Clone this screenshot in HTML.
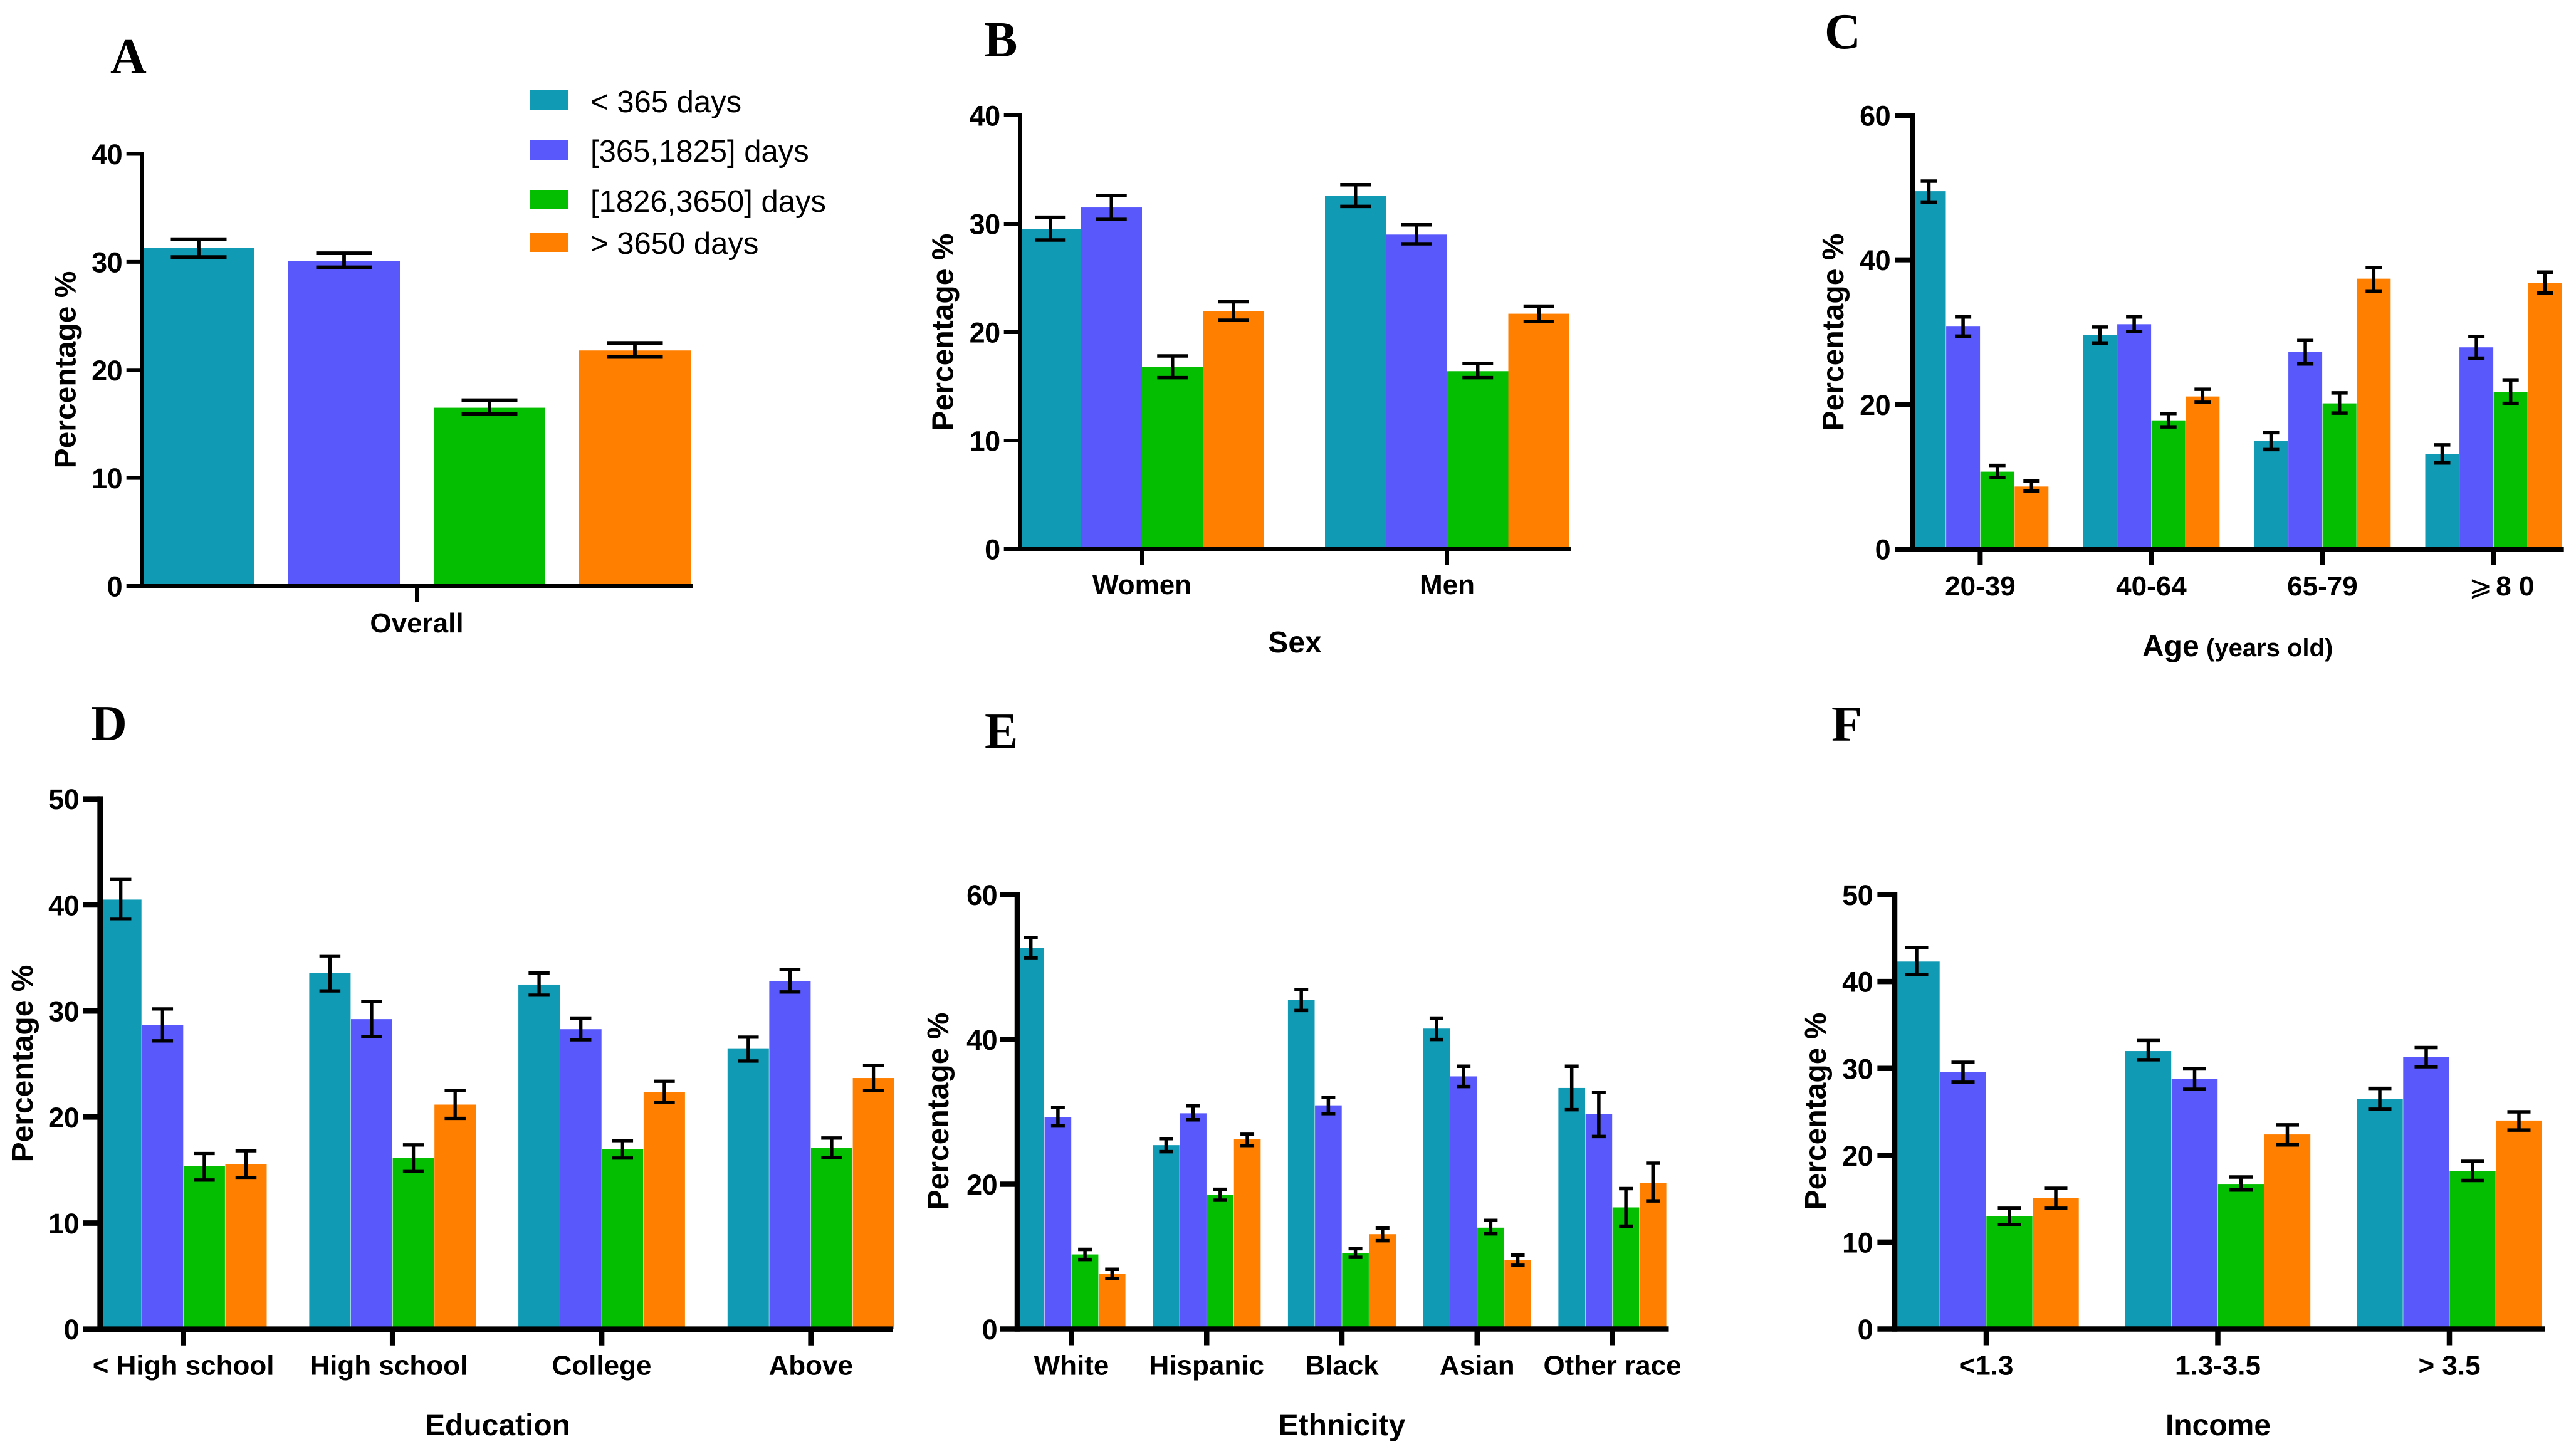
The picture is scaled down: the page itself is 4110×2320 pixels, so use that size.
<!DOCTYPE html>
<html lang="en">
<head>
<meta charset="utf-8">
<title>Percentage by duration across subgroups</title>
<style>
html,body{margin:0;padding:0;background:#fff;}
svg{display:block;}
text{font-family:"Liberation Sans","DejaVu Sans",sans-serif;fill:#000;}
.letter{font-family:"Liberation Serif",serif;font-weight:bold;font-size:80px;}
.ytitle{font-weight:bold;font-size:48px;}
.xtitle{font-weight:bold;font-size:48px;}
.legend{font-size:49px;}
.tick{font-weight:bold;font-size:45px;letter-spacing:-0.6px;}
.cat{font-weight:bold;font-size:44px;}
</style>
</head>
<body>
<svg id="figure" xmlns="http://www.w3.org/2000/svg" width="4110" height="2320" viewBox="0 0 4110 2320">
  <rect x="0" y="0" width="4110" height="2320" fill="#ffffff"/>

  <g id="panel-overall"></g>
  <g id="panel-sex"></g>
  <g id="panel-age"></g>
  <g id="panel-education"></g>
  <g id="panel-ethnicity"></g>
  <g id="panel-income"></g>

  <text class="letter" x="176" y="117">A</text>
  <text class="letter" x="1570" y="90">B</text>
  <text class="letter" x="2911" y="77">C</text>
  <text class="letter" x="145" y="1181">D</text>
  <text class="letter" x="1571" y="1193">E</text>
  <text class="letter" x="2922" y="1182">F</text>

  <text class="ytitle" text-anchor="middle" transform="translate(120.5 590) rotate(-90)">Percentage %</text>
  <text class="ytitle" text-anchor="middle" transform="translate(1520.5 530) rotate(-90)">Percentage %</text>
  <text class="ytitle" text-anchor="middle" transform="translate(2941 530) rotate(-90)">Percentage %</text>
  <text class="ytitle" text-anchor="middle" transform="translate(52 1697) rotate(-90)">Percentage %</text>
  <text class="ytitle" text-anchor="middle" transform="translate(1513 1773) rotate(-90)">Percentage %</text>
  <text class="ytitle" text-anchor="middle" transform="translate(2913 1773) rotate(-90)">Percentage %</text>

  <text class="xtitle" x="2066" y="1041" text-anchor="middle">Sex</text>
  <text class="xtitle" x="3418" y="1047">Age</text>
  <text x="3520" y="1047" font-weight="bold" font-size="40">(years old)</text>
  <text class="xtitle" x="794" y="2290" text-anchor="middle">Education</text>
  <text class="xtitle" x="2141" y="2290" text-anchor="middle">Ethnicity</text>
  <text class="xtitle" x="3539" y="2290" text-anchor="middle">Income</text>

  <g>
    <rect x="845" y="144" width="62" height="31" fill="#109ab4"/>
    <text class="legend" x="942" y="179">&lt; 365 days</text>
    <rect x="845" y="224" width="62" height="31" fill="#5858fb"/>
    <text class="legend" x="942" y="258">[365,1825] days</text>
    <rect x="845" y="303" width="62" height="31" fill="#04be02"/>
    <text class="legend" x="942" y="338">[1826,3650] days</text>
    <rect x="845" y="371" width="62" height="31" fill="#ff7f00"/>
    <text class="legend" x="942" y="405">&gt; 3650 days</text>
  </g>
</svg>

<script>
// ---- Data. Each row is one duration series, each column one category. ----
const seriesColors = ['#109ab4', '#5858fb', '#04be02', '#ff7f00'];

const overallCategories = ['Overall'];
const overallTicks = [0, 10, 20, 30, 40];
const overallValues = [[31.3], [30.1], [16.5], [21.8]];
const overallLow = [[30.45], [29.5], [15.9], [21.2]];
const overallHigh = [[32.1], [30.8], [17.2], [22.5]];

const sexCategories = ['Women', 'Men'];
const sexTicks = [0, 10, 20, 30, 40];
const sexValues = [[29.5, 32.6], [31.5, 29.0], [16.8, 16.4], [21.95, 21.7]];
const sexLow = [[28.5, 31.6], [30.4, 28.15], [15.8, 15.8], [21.1, 21.0]];
const sexHigh = [[30.6, 33.6], [32.6, 29.9], [17.8, 17.1], [22.8, 22.4]];

const ageCategories = ['20-39', '40-64', '65-79', '⩾8 0'];
const ageTicks = [0, 20, 40, 60];
const ageValues = [[49.5, 29.6, 15.0, 13.15], [30.85, 31.1, 27.3, 27.9], [10.7, 17.8, 20.15, 21.7], [8.64, 21.1, 37.4, 36.8]];
const ageLow = [[48.0, 28.5, 13.75, 11.9], [29.45, 30.1, 25.6, 26.4], [9.9, 16.9, 18.8, 20.15], [8.0, 20.3, 35.7, 35.4]];
const ageHigh = [[50.9, 30.7, 16.1, 14.4], [32.1, 32.1, 28.85, 29.4], [11.56, 18.75, 21.6, 23.4], [9.43, 22.1, 38.95, 38.3]];

const educationCategories = ['< High school', 'High school', 'College', 'Above'];
const educationTicks = [0, 10, 20, 30, 40, 50];
const educationValues = [[40.5, 33.59, 32.49, 26.48], [28.68, 29.23, 28.28, 32.79], [15.36, 16.13, 16.97, 17.1], [15.56, 21.17, 22.37, 23.68]];
const educationLow = [[38.7, 31.89, 31.49, 25.28], [27.18, 27.58, 27.28, 31.79], [14.06, 14.86, 16.13, 16.16], [14.26, 19.87, 21.37, 22.52]];
const educationHigh = [[42.4, 35.19, 33.59, 27.53], [30.19, 30.89, 29.33, 33.89], [16.56, 17.37, 17.77, 18.02], [16.82, 22.52, 23.37, 24.88]];

const ethnicityCategories = ['White', 'Hispanic', 'Black', 'Asian', 'Other race'];
const ethnicityTicks = [0, 20, 40, 60];
const ethnicityValues = [[52.66, 25.4, 45.5, 41.5, 33.3], [29.26, 29.8, 30.9, 34.9, 29.7], [10.3, 18.5, 10.5, 14.0, 16.8], [7.6, 26.2, 13.1, 9.5, 20.2]];
const ethnicityLow = [[51.3, 24.5, 44.0, 40.0, 30.3], [28.05, 28.9, 29.75, 33.5, 26.6], [9.6, 17.8, 9.9, 13.15, 14.2], [6.95, 25.35, 12.2, 8.8, 17.7]];
const ethnicityHigh = [[54.1, 26.3, 46.9, 42.95, 36.3], [30.6, 30.8, 32.0, 36.3, 32.7], [11.0, 19.3, 11.1, 15.0, 19.4], [8.25, 26.9, 13.95, 10.2, 22.9]];

const incomeCategories = ['<1.3', '1.3-3.5', '> 3.5'];
const incomeTicks = [0, 10, 20, 30, 40, 50];
const incomeValues = [[42.3, 32.0, 26.5], [29.55, 28.8, 31.3], [13.0, 16.7, 18.2], [15.1, 22.4, 24.0]];
const incomeLow = [[40.8, 31.0, 25.3], [28.4, 27.6, 30.2], [12.0, 16.0, 17.1], [13.9, 21.2, 22.9]];
const incomeHigh = [[43.9, 33.2, 27.7], [30.7, 29.95, 32.4], [13.9, 17.5, 19.3], [16.2, 23.5, 25.0]];

// ---- Panel geometry (separate from data) ----
const SVG_NS = 'http://www.w3.org/2000/svg';

function shape(parent, tag, attrs) {
  const el = document.createElementNS(SVG_NS, tag);
  for (const key in attrs) { el.setAttribute(key, attrs[key]); }
  parent.appendChild(el);
  return el;
}

function drawPanel(p) {
  const root = document.getElementById(p.id);
  const yTop = p.y0 - p.plotH;
  const yMax = p.ticks[p.ticks.length - 1];
  const yScale = function (v) { return p.y0 - (v / yMax) * p.plotH; };
  const xCenter = function (i) { return p.x1 + i * p.pitch; };
  const barX = function (i, s, n) { return xCenter(i) - (n * p.barPitch - (p.barPitch - p.barW)) / 2 + s * p.barPitch; };
  const nSeries = p.values.length;

  // bars first so the error bars and axes sit on top
  p.values.forEach(function (row, s) {
    row.forEach(function (v, i) {
      const bar = shape(root, 'rect', {
        x: barX(i, s, nSeries) + p.hair / 2,
        y: yScale(v),
        width: p.barW - p.hair,
        height: p.y0 - yScale(v),
        fill: seriesColors[s]
      });
      
      
    });
  });

  p.values.forEach(function (row, s) {
    row.forEach(function (v, i) {
      const cx = barX(i, s, nSeries) + p.barW / 2;
      const lo = yScale(p.low[s][i]);
      const hi = yScale(p.high[s][i]);
      const stem = shape(root, 'line', { x1: cx, x2: cx, y1: hi, y2: lo, stroke: '#000', 'stroke-width': p.err });
      
      
      const capTop = shape(root, 'line', { x1: cx - p.capW / 2, x2: cx + p.capW / 2, y1: hi, y2: hi, stroke: '#000', 'stroke-width': p.err });
      
      
      const capBottom = shape(root, 'line', { x1: cx - p.capW / 2, x2: cx + p.capW / 2, y1: lo, y2: lo, stroke: '#000', 'stroke-width': p.err });
      
      
    });
  });

  const yAxis = shape(root, 'line', { x1: p.x0, x2: p.x0, y1: yTop - p.axis / 2, y2: p.y0 + p.axis / 2, stroke: '#000', 'stroke-width': p.axis });
  
  

  const xAxis = shape(root, 'line', { x1: p.x0, x2: p.xEnd, y1: p.y0, y2: p.y0, stroke: '#000', 'stroke-width': p.axis });
  
  

  p.ticks.forEach(function (t) {
    const tick = shape(root, 'line', { x1: p.tickLeft, x2: p.x0, y1: yScale(t), y2: yScale(t), stroke: '#000', 'stroke-width': p.axis });
    
    
    const label = shape(root, 'text', { class: 'tick', x: p.labelRight, y: yScale(t) + 16.5, 'text-anchor': 'end' });
    label.textContent = String(t);
    
    
  });

  p.categories.forEach(function (c, i) {
    const tick = shape(root, 'line', { x1: xCenter(i), x2: xCenter(i), y1: p.y0, y2: p.y0 + 26, stroke: '#000', 'stroke-width': p.axis });
    
    
    const label = shape(root, 'text', { class: 'cat', x: xCenter(i) + (p.labelShift ? p.labelShift[i] : 0), y: p.labelY, 'text-anchor': 'middle' });
    if (c.charAt(0) === '⩾') {
      const symbol = shape(label, 'tspan', { 'font-weight': 'normal', 'font-family': '"DejaVu Sans", sans-serif' });
      symbol.textContent = c.charAt(0);
      
      
      const rest = shape(label, 'tspan', { dx: 6 });
      rest.textContent = c.slice(1);
      
      
    } else {
      label.textContent = c;
    }
    
    
  });
}

drawPanel({ id: 'panel-overall', categories: overallCategories, ticks: overallTicks, values: overallValues, low: overallLow, high: overallHigh,
  x0: 226, y0: 935, plotH: 689.5, x1: 665, pitch: 0, barW: 178, barPitch: 232, capW: 89, err: 5.8, hair: 0, axis: 6, xEnd: 1106, tickLeft: 201.7, labelRight: 195, labelY: 1009 });
drawPanel({ id: 'panel-sex', categories: sexCategories, ticks: sexTicks, values: sexValues, low: sexLow, high: sexHigh,
  x0: 1627, y0: 876, plotH: 692, x1: 1822, pitch: 487, barW: 97.5, barPitch: 97.5, capW: 49, err: 5.5, hair: 0, axis: 6, xEnd: 2507, tickLeft: 1601.7, labelRight: 1595.5, labelY: 948 });
drawPanel({ id: 'panel-age', categories: ageCategories, ticks: ageTicks, values: ageValues, low: ageLow, high: ageHigh, labelShift: [0, 0, 0, 13],
  x0: 3051, y0: 876, plotH: 692, x1: 3159.4, pitch: 273, barW: 54.6, barPitch: 54.6, capW: 26, err: 5.5, hair: 0.6, axis: 8, xEnd: 4090.7, tickLeft: 3024, labelRight: 3016, labelY: 950 });
drawPanel({ id: 'panel-education', categories: educationCategories, ticks: educationTicks, values: educationValues, low: educationLow, high: educationHigh, labelShift: [0, -6, 0, 0],
  x0: 159.7, y0: 2120.7, plotH: 846, x1: 292.6, pitch: 333.7, barW: 66.6, barPitch: 66.6, capW: 33.5, err: 5.3, hair: 0.6, axis: 8.7, xEnd: 1425, tickLeft: 132.7, labelRight: 126, labelY: 2193.3 });
drawPanel({ id: 'panel-ethnicity', categories: ethnicityCategories, ticks: ethnicityTicks, values: ethnicityValues, low: ethnicityLow, high: ethnicityHigh,
  x0: 1623, y0: 2120.5, plotH: 692.9, x1: 1709.5, pitch: 215.75, barW: 43.2, barPitch: 43.2, capW: 22, err: 5.5, hair: 0.6, axis: 8.5, xEnd: 2662.5, tickLeft: 1596, labelRight: 1591, labelY: 2193.3 });
drawPanel({ id: 'panel-income', categories: incomeCategories, ticks: incomeTicks, values: incomeValues, low: incomeLow, high: incomeHigh,
  x0: 3023, y0: 2120.5, plotH: 692.9, x1: 3169, pitch: 369.5, barW: 74, barPitch: 74, capW: 37, err: 5.5, hair: 0.6, axis: 8.5, xEnd: 4060, tickLeft: 2995.4, labelRight: 2988, labelY: 2193.3 });
</script>
</body>
</html>
